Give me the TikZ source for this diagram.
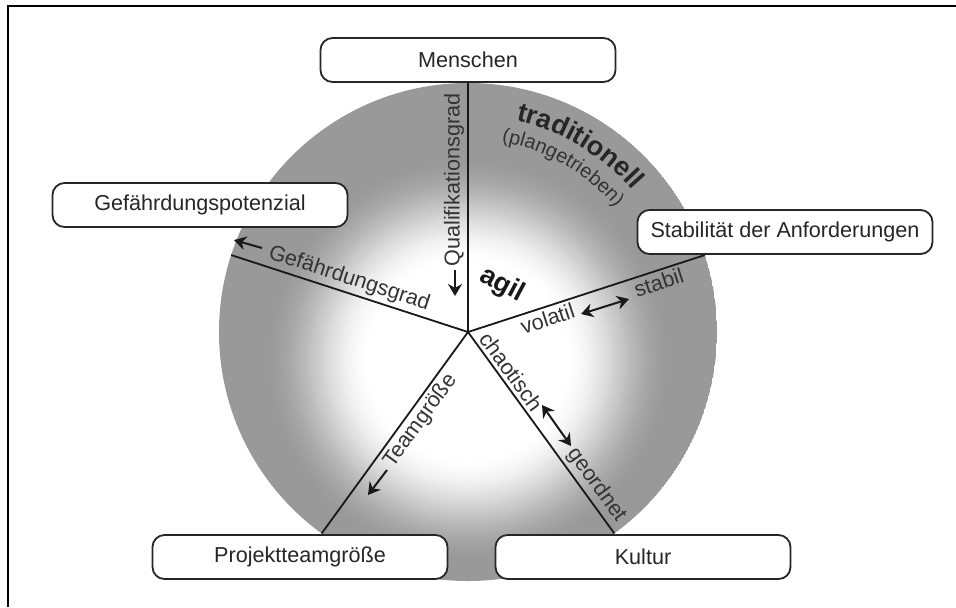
\documentclass[tikz,border=0pt]{standalone}
\usepackage{fontspec}
\setmainfont{Liberation Sans}
\usetikzlibrary{arrows.meta,decorations.text}

\begin{document}
\begin{tikzpicture}[
                x=0.5pt, y=0.5pt,
                font=\fontsize{10.8}{13}\selectfont,
                FactorBox/.style={draw=black!85, line width=0.9pt, rounded corners=6pt, fill=white, text=black!85, minimum width=147.5pt, minimum height=22pt, inner sep=0pt},
                Spoke/.style={line width=0.9pt, draw=black!90},
                SpokeLabel/.style={sloped, inner sep=1.5pt, text=black!80},
                OneWay/.style={-{Stealth[length=6pt, width=7pt]}, line width=1pt, draw=black!90},
                TwoWay/.style={{Stealth[length=6pt, width=7pt]}-{Stealth[length=6pt, width=7pt]}, line width=1pt, draw=black!90},
            ]
            \useasboundingbox (-468,-275) rectangle (488,332);
            \draw[line width=1.2pt] (-460,-275) -- (-460,326) -- (488,326);

            \coordinate (hub) at (0,0);
            % gray disc, lighter towards the middle
            \begin{scope}
                \clip (hub) circle (249);
                \fill[black!40] (hub) circle (249);
                \foreach \r in {206,203,...,98} {
                    \pgfmathsetmacro{\s}{(\r-98)/108}
                    \pgfmathsetmacro{\p}{40*\s*\s*(3-2*\s)}
                    \fill[black!\p] (0,-28) circle (\r);
                }
            \end{scope}

            % spokes
            \coordinate (qEnd) at (90:249);
            \coordinate (gEnd) at (162:249);
            \coordinate (sEnd) at (18:249);
            \coordinate (kEnd) at (-54:249);
            \coordinate (tEnd) at (-126:249);
            \draw[Spoke] (hub) -- (qEnd) node[pos=0.61, rotate=90, anchor=south, inner sep=1.5pt, text=black!80] (qLabel) {Qualifikationsgrad};
            \draw[Spoke] (hub) -- (gEnd) node[SpokeLabel, pos=0.52, above] (gLabel) {Gefährdungsgrad};
            \draw[Spoke] (hub) -- (sEnd) node[SpokeLabel, pos=0.32, below] (volatil) {volatil}
                                         node[SpokeLabel, pos=0.79, below] (stabil) {stabil};
            \draw[Spoke] (hub) -- (kEnd) node[SpokeLabel, pos=0.23, above] (chaotisch) {chaotisch}
                                         node[SpokeLabel, pos=0.80, above] (geordnet) {geordnet};
            \draw[Spoke] (hub) -- (tEnd) node[SpokeLabel, pos=0.40, below] (tLabel) {Teamgröße};

            % arrows beside the spokes
            \coordinate (qArrA) at (-13,62);   \coordinate (qArrB) at (-13,36);
            \coordinate (gArrA) at (-206,84);  \coordinate (gArrB) at (-234,92);
            \coordinate (sArrA) at (113,18);   \coordinate (sArrB) at (161,33);
            \coordinate (kArrA) at (74,-73);   \coordinate (kArrB) at (103,-114);
            \coordinate (tArrA) at (-81,-138); \coordinate (tArrB) at (-100,-163);
            \draw[OneWay] (qArrA) -- (qArrB);
            \draw[OneWay] (gArrA) -- (gArrB);
            \draw[TwoWay] (sArrA) -- (sArrB);
            \draw[TwoWay] (kArrA) -- (kArrB);
            \draw[OneWay] (tArrA) -- (tArrB);

            \node[rotate=-28, font=\fontsize{13.5}{16}\selectfont\bfseries, text=black!90] (agil) at (34,47) {agil};
            \path[decorate, decoration={text along path, text align=center, text color=black!85,
                    text={|\fontsize{13.5}{16}\selectfont\bfseries|traditionell}}]
                (hub) ++(95:217) arc[start angle=95, end angle=23, radius=217];
            \path[decorate, decoration={text along path, text align=center, text color=black!80,
                    text={(plangetrieben)}}]
                (hub) ++(96:193) arc[start angle=96, end angle=24, radius=193];

            \node[FactorBox] (menschen) at (0,272) {Menschen};
            \node[FactorBox] (gefahr) at (-268,127) {Gefährdungspotenzial};
            \node[FactorBox] (stabilitaet) at (317,100) {Stabilität der Anforderungen};
            \node[FactorBox] (projekt) at (-168,-225) {Projektteamgröße};
            \node[FactorBox] (kultur) at (175,-225) {Kultur};
        \end{tikzpicture}
\end{document}
